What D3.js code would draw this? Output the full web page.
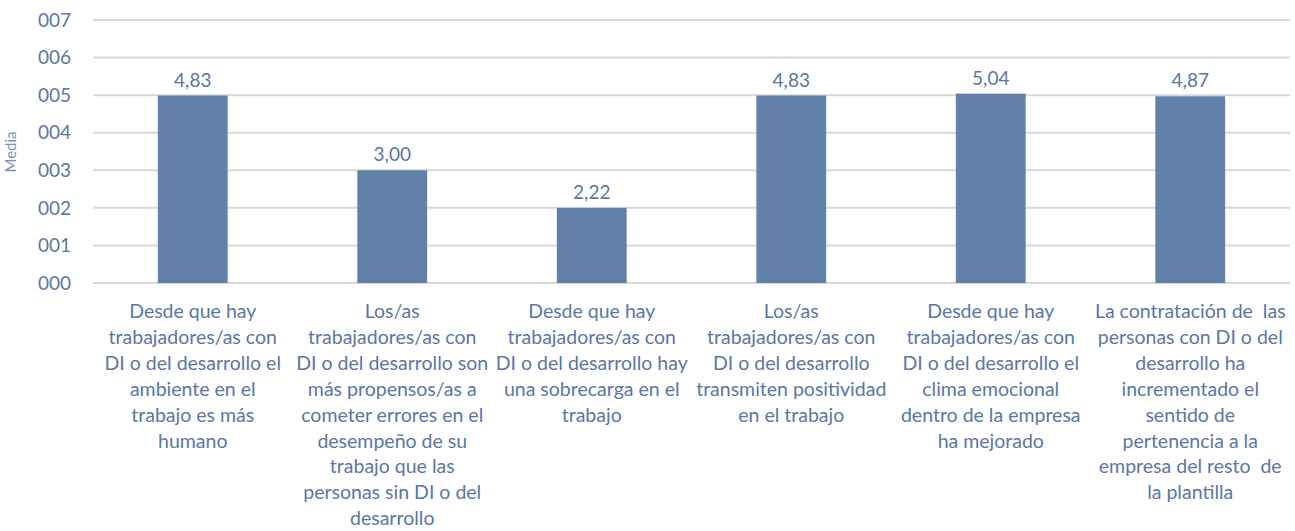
<!DOCTYPE html>
<html lang="es">
<head>
<meta charset="UTF-8">
<title>Media</title>
<script src="https://d3js.org/d3.v7.min.js"></script>
<style>
    body { margin: 0; background: #fff; }
    svg text { font-family: Lato, "Open Sans", sans-serif; fill: #5a77a7; }
    .cat text { white-space: pre; }
</style>
</head>
<body>
<svg id="chart"></svg>
<script>
    // values
    const labels = ["4,83", "3,00", "2,22", "4,83", "5,04", "4,87"];
    const barHeights = [4.99, 3.0, 2.0, 4.99, 5.04, 4.97]; // where the bar tops actually sit
    const yTicks = [0, 1, 2, 3, 4, 5, 6, 7];
    const categories = [
        ["Desde que hay", "trabajadores/as con", "DI o del desarrollo el", "ambiente en el", "trabajo es más", "humano"],
        ["Los/as", "trabajadores/as con", "DI o del desarrollo son", "más propensos/as a", "cometer errores en el", "desempeño de su", "trabajo que las", "personas sin DI o del", "desarrollo"],
        ["Desde que hay", "trabajadores/as con", "DI o del desarrollo hay", "una sobrecarga en el", "trabajo"],
        ["Los/as", "trabajadores/as con", "DI o del desarrollo", "transmiten positividad", "en el trabajo"],
        ["Desde que hay", "trabajadores/as con", "DI o del desarrollo el", "clima emocional", "dentro de la empresa", "ha mejorado"],
        ["La contratación de  las", "personas con DI o del", "desarrollo ha", "incrementado el", "sentido de", "pertenencia a la", "empresa del resto  de", "la plantilla"]
    ];
    const yTitle = "Media";

    const width = 1295, height = 531;
    const svg = d3.select("#chart").attr("width", width).attr("height", height);

    const x = d3.scaleBand()
        .domain(d3.range(categories.length))
        .range([93, 1290])
        .paddingInner(0.65)
        .paddingOuter(0.325);

    const y = d3.scaleLinear().domain([0, 7]).range([283, 20]);

    // gridlines
    svg.append("g")
        .selectAll("line")
        .data(yTicks)
        .join("line")
        .attr("x1", 93).attr("x2", 1290)
        .attr("y1", d => y(d)).attr("y2", d => y(d))
        .attr("stroke", "#d9d9d9")
        .attr("stroke-width", 2);

    // y tick labels
    svg.append("g")
        .selectAll("text")
        .data(yTicks)
        .join("text")
        .attr("x", 71)
        .attr("y", d => y(d))
        .attr("dy", "0.35em")
        .attr("text-anchor", "end")
        .style("font-size", "19px")
        .text(d => d3.format("03d")(d));

    // y title (mostly hidden behind the left edge in the original)
    svg.append("text")
        .attr("transform", "translate(16,152) rotate(-90)")
        .attr("text-anchor", "middle")
        .style("font-size", "15px")
        .style("opacity", 0.8)
        .text(yTitle);

    // bars
    svg.append("g")
        .selectAll("rect")
        .data(barHeights)
        .join("rect")
        .attr("x", (d, i) => x(i))
        .attr("width", x.bandwidth())
        .attr("y", d => y(d))
        .attr("height", d => y(0) - y(d))
        .attr("fill", "#6180aa");

    // value labels
    svg.append("g")
        .selectAll("text")
        .data(labels)
        .join("text")
        .attr("x", (d, i) => x(i) + x.bandwidth() / 2)
        .attr("y", (d, i) => y(barHeights[i]) - 9)
        .attr("text-anchor", "middle")
        .style("font-size", "19px")
        .text(d => d);

    // category labels
    const cat = svg.append("g").attr("class", "cat")
        .selectAll("text")
        .data(categories)
        .join("text")
        .attr("text-anchor", "middle")
        .style("font-size", "19.5px");

    cat.selectAll("tspan")
        .data((d, i) => d.map(line => ({ line, i })))
        .join("tspan")
        .attr("x", d => x(d.i) + x.bandwidth() / 2)
        .attr("y", (d, j) => 318 + j * 25.9)
        .text(d => d.line);
</script>
</body>
</html>
